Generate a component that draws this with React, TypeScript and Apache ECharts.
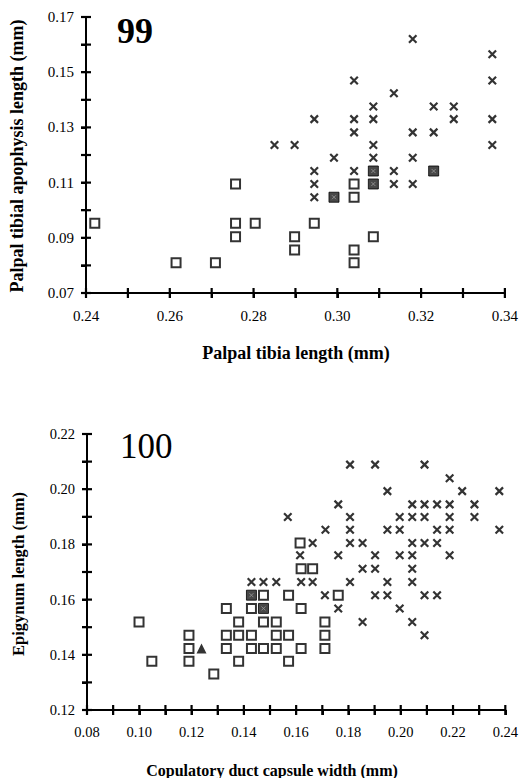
import React, { useEffect, useRef } from "react";
import * as echarts from "echarts";

// Panel 99: palpal tibia length (x) vs palpal tibial apophysis length (y), mm
const p99Open: number[][] = [
  [0.2421, 0.0953], [0.2615, 0.081], [0.2709, 0.081], [0.2757, 0.1095], [0.2757, 0.0953],
  [0.2757, 0.0904], [0.2804, 0.0953], [0.2898, 0.0904], [0.2898, 0.0856], [0.2945, 0.0953],
  [0.304, 0.1095], [0.304, 0.1047], [0.304, 0.0856], [0.304, 0.081], [0.3086, 0.0904],
];
const p99Cross: number[][] = [
  [0.318, 0.162], [0.337, 0.1565], [0.337, 0.147], [0.304, 0.147], [0.3135, 0.1424],
  [0.3086, 0.1376], [0.323, 0.1376], [0.3278, 0.1376],
  [0.2945, 0.133], [0.304, 0.133], [0.3086, 0.133], [0.3278, 0.133], [0.337, 0.133],
  [0.304, 0.1282], [0.318, 0.1282], [0.323, 0.1282],
  [0.285, 0.1236], [0.2898, 0.1236], [0.3086, 0.1236], [0.337, 0.1236],
  [0.2992, 0.119], [0.3086, 0.119], [0.318, 0.119],
  [0.2945, 0.1142], [0.304, 0.1142], [0.3135, 0.1142],
  [0.2945, 0.1095], [0.3135, 0.1095], [0.318, 0.1095],
  [0.2945, 0.1047],
];
const p99Both: number[][] = [
  [0.3086, 0.1142], [0.323, 0.1142], [0.3086, 0.1095], [0.2992, 0.1047],
];

// Panel 100: copulatory duct capsule width (x) vs epigynum length (y), mm
const p100Open: number[][] = [
  [0.1615, 0.1805],
  [0.1619, 0.1712], [0.1663, 0.1712],
  [0.1475, 0.1616], [0.1571, 0.1616], [0.1761, 0.1616],
  [0.1333, 0.1568], [0.1429, 0.1568], [0.1619, 0.1568],
  [0.0999, 0.1519], [0.138, 0.1519], [0.1475, 0.1519], [0.1524, 0.1519], [0.171, 0.1519],
  [0.119, 0.1471], [0.1333, 0.1471], [0.138, 0.1471], [0.1429, 0.1471], [0.1524, 0.1471], [0.1571, 0.1471], [0.171, 0.1471],
  [0.119, 0.1423], [0.1333, 0.1423], [0.1429, 0.1423], [0.1475, 0.1423], [0.1524, 0.1423], [0.1619, 0.1423], [0.171, 0.1423],
  [0.1048, 0.1377], [0.119, 0.1377], [0.138, 0.1377], [0.1571, 0.1377],
  [0.1285, 0.133],
];
const p100Cross: number[][] = [
  [0.1806, 0.2089], [0.1902, 0.2089], [0.2091, 0.2089],
  [0.2187, 0.204],
  [0.1949, 0.1993], [0.2235, 0.1993], [0.2377, 0.1993],
  [0.1761, 0.1945], [0.2044, 0.1945], [0.2091, 0.1945], [0.2139, 0.1945], [0.2187, 0.1945], [0.2282, 0.1945],
  [0.1568, 0.1899], [0.1806, 0.1899], [0.1996, 0.1899], [0.2044, 0.1899], [0.2091, 0.1899], [0.2187, 0.1899], [0.2282, 0.1899],
  [0.1712, 0.1853], [0.1806, 0.1853], [0.1949, 0.1853], [0.1996, 0.1853], [0.2139, 0.1853], [0.2187, 0.1853], [0.2377, 0.1853],
  [0.1663, 0.1805], [0.1806, 0.1805], [0.1854, 0.1805], [0.2044, 0.1805], [0.2091, 0.1805], [0.2139, 0.1805],
  [0.1615, 0.1761], [0.1761, 0.1761], [0.1902, 0.1761], [0.1996, 0.1761], [0.2044, 0.1761], [0.2187, 0.1761],
  [0.1854, 0.1712], [0.1902, 0.1712], [0.2044, 0.1712],
  [0.1429, 0.1664], [0.1475, 0.1664], [0.1524, 0.1664], [0.1619, 0.1664], [0.1663, 0.1664], [0.1806, 0.1664], [0.1949, 0.1664], [0.2044, 0.1664],
  [0.171, 0.1616], [0.1902, 0.1616], [0.1949, 0.1616], [0.2091, 0.1616], [0.2139, 0.1616],
  [0.1761, 0.1568], [0.1996, 0.1568],
  [0.1854, 0.1519], [0.2044, 0.1519],
  [0.2091, 0.1471],
];
const p100Both: number[][] = [[0.1429, 0.1616], [0.1475, 0.1568]];
const p100Tri: number[][] = [[0.1238, 0.1423]];

// Axis tick positions (every 0.01; labels on every other one)
const p99XTicks = [0.24, 0.25, 0.26, 0.27, 0.28, 0.29, 0.3, 0.31, 0.32, 0.33, 0.34];
const p99YTicks = [0.07, 0.08, 0.09, 0.1, 0.11, 0.12, 0.13, 0.14, 0.15, 0.16, 0.17];
const p100XTicks = [0.08, 0.09, 0.1, 0.11, 0.12, 0.13, 0.14, 0.15, 0.16, 0.17, 0.18, 0.19, 0.2, 0.21, 0.22, 0.23, 0.24];
const p100YTicks = [0.12, 0.13, 0.14, 0.15, 0.16, 0.17, 0.18, 0.19, 0.2, 0.21, 0.22];

const FONT = "Liberation Serif";
const CROSS = "path://M0,0L10,10M10,0L0,10";

function fmt(odd: boolean) {
  return (v: number) => {
    const k = Math.round(v * 100);
    return (k % 2 === 1) === odd ? v.toFixed(2) : "";
  };
}

function axis(grid: number, min: number, max: number, oddLabels: boolean, fontSize: number, margin: number) {
  return {
    type: "value",
    gridIndex: grid,
    min,
    max,
    interval: 0.01,
    splitLine: { show: false },
    axisLine: { show: true, onZero: false, lineStyle: { color: "#000", width: 2 } },
    axisTick: { show: true, inside: false, length: 5, lineStyle: { color: "#000", width: 2 } },
    axisLabel: { show: true, formatter: fmt(oddLabels), color: "#000", fontFamily: FONT, fontSize, margin },
  };
}

function tickSeries(idx: number, ticks: number[], other: number, dim: "x" | "y") {
  return {
    type: "custom",
    xAxisIndex: idx,
    yAxisIndex: idx,
    clip: false,
    silent: true,
    z: 5,
    data: ticks.map((t) => (dim === "x" ? [t, other] : [other, t])),
    renderItem: (_params: any, api: any) => {
      const p = api.coord([api.value(0), api.value(1)]);
      const L = 5;
      const shape = dim === "x"
        ? { x1: p[0], y1: p[1] - L, x2: p[0], y2: p[1] + L }
        : { x1: p[0] - L, y1: p[1], x2: p[0] + L, y2: p[1] };
      return { type: "line", shape, style: { stroke: "#000", lineWidth: 2.2 } };
    },
  };
}

function markerSeries(idx: number, open: number[][], cross: number[][], both: number[][], tri?: number[][]) {
  const s: any[] = [
    {
      type: "scatter", xAxisIndex: idx, yAxisIndex: idx, data: cross, symbol: CROSS, symbolSize: 7.5,
      itemStyle: { color: "none", borderColor: "#000", borderWidth: 2.2 },
    },
    {
      type: "scatter", xAxisIndex: idx, yAxisIndex: idx, data: open, symbol: "rect", symbolSize: 9,
      itemStyle: { color: "#fff", borderColor: "#000", borderWidth: 2 },
    },
    {
      type: "scatter", xAxisIndex: idx, yAxisIndex: idx, data: both, symbol: "rect", symbolSize: 10,
      itemStyle: { color: "#1a1a1a", borderColor: "#000", borderWidth: 1 },
    },
    {
      type: "scatter", xAxisIndex: idx, yAxisIndex: idx, data: both, symbol: CROSS, symbolSize: 4,
      itemStyle: { color: "none", borderColor: "#9a9a9a", borderWidth: 1 },
    },
  ];
  if (tri) {
    s.push({
      type: "scatter", xAxisIndex: idx, yAxisIndex: idx, data: tri, symbol: "triangle", symbolSize: 10,
      itemStyle: { color: "#000" },
    });
  }
  return s;
}

export default function App() {
  const ref = useRef<HTMLDivElement>(null);
  useEffect(() => {
    if (!ref.current) return;
    const chart = echarts.init(ref.current, null, { renderer: "svg" });
    const option: any = {
      animation: false,
      grid: [
        { left: 86, top: 17, width: 419, height: 276 },
        { left: 87, top: 434, width: 420, height: 276 },
      ],
      xAxis: [
        axis(0, 0.24, 0.34, false, 15, 15),
        axis(1, 0.08, 0.24, false, 14.5, 14),
      ],
      yAxis: [
        axis(0, 0.07, 0.17, true, 15, 12),
        axis(1, 0.12, 0.22, false, 14.5, 12),
      ],
      series: [
        tickSeries(0, p99XTicks, 0.07, "x"),
        tickSeries(0, p99YTicks, 0.24, "y"),
        tickSeries(1, p100XTicks, 0.12, "x"),
        tickSeries(1, p100YTicks, 0.08, "y"),
        ...markerSeries(0, p99Open, p99Cross, p99Both),
        ...markerSeries(1, p100Open, p100Cross, p100Both, p100Tri),
      ],
      graphic: [
        { type: "text", x: 117, y: 31, style: { text: "99", font: `bold 36px ${FONT}`, fill: "#000", align: "left", verticalAlign: "middle" } },
        { type: "text", x: 120, y: 446, style: { text: "100", font: `35px ${FONT}`, fill: "#000", align: "left", verticalAlign: "middle" } },
        { type: "text", x: 296, y: 353, style: { text: "Palpal tibia length (mm)", font: `bold 18px ${FONT}`, fill: "#000", align: "center", verticalAlign: "middle" } },
        { type: "text", x: 272, y: 770, style: { text: "Copulatory duct capsule width (mm)", font: `bold 16px ${FONT}`, fill: "#000", align: "center", verticalAlign: "middle" } },
        { type: "text", x: 17, y: 156, rotation: Math.PI / 2, style: { text: "Palpal tibial apophysis length (mm)", font: `bold 18px ${FONT}`, fill: "#000", align: "center", verticalAlign: "middle" } },
        { type: "text", x: 18, y: 574, rotation: Math.PI / 2, style: { text: "Epigynum length (mm)", font: `bold 16.5px ${FONT}`, fill: "#000", align: "center", verticalAlign: "middle" } },
      ],
    };
    chart.setOption(option);
    return () => chart.dispose();
  }, []);
  return (
    <div
      ref={ref}
      style={{ position: "absolute", left: 0, top: 0, width: 521, height: 778, background: "#fff" }}
    />
  );
}
